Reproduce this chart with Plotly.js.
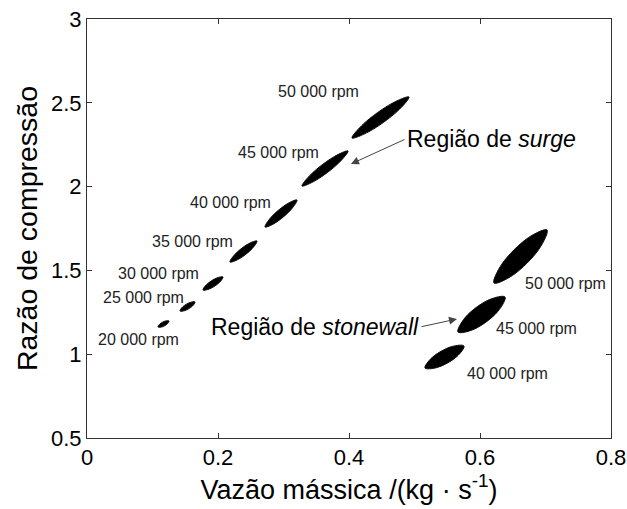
<!DOCTYPE html>
<html>
<head>
<meta charset="utf-8">
<script src="https://cdn.plot.ly/plotly-3.0.1.min.js"></script>
<style>html,body{margin:0;padding:0;background:#fff;}#chart{width:627px;height:509px;}</style>
</head>
<body>
<div id="chart"></div>
<script>
// Operating-point clouds: each cloud outlined by
// its two tips and two points on each long side
const clusterNames = ["S20","S25","S30","S35","S40","S45","S50","W40","W45","W50"];
const tipLowX  = [0.1084,0.1420,0.1771,0.2183,0.2718,0.3282,0.4046,0.5160,0.5664,0.6214];
const tipLowY  = [1.1623,1.2578,1.3831,1.5501,1.7589,2.0036,2.2900,0.9177,1.1325,1.4248];
const tipHighX = [0.1252,0.1649,0.2076,0.2595,0.3206,0.3985,0.4916,0.5756,0.6382,0.7023];
const tipHighY = [1.1981,1.3115,1.4606,1.6754,1.9200,2.2124,2.5346,1.0489,1.3413,1.7411];
const upperHighX = [0.1197,0.1575,0.1978,0.2464,0.3050,0.3773,0.4656,0.5565,0.6135,0.6737];
const upperHighY = [1.1982,1.3091,1.4542,1.6584,1.8956,2.1787,2.4965,1.0454,1.3243,1.6949];
const upperLowX  = [0.1113,0.1460,0.1826,0.2258,0.2806,0.3422,0.4221,0.5267,0.5776,0.6332];
const upperLowY  = [1.1803,1.2823,1.4155,1.5957,1.8150,2.0743,2.3742,0.9797,1.2199,1.5368];
const lowerLowX  = [0.1139,0.1494,0.1869,0.2315,0.2874,0.3494,0.4306,0.5351,0.5911,0.6500];
const lowerLowY  = [1.1622,1.2601,1.3895,1.5672,1.7834,2.0373,2.3281,0.9212,1.1494,1.4710];
const lowerHighX = [0.1223,0.1609,0.2022,0.2521,0.3118,0.3845,0.4741,0.5649,0.6269,0.6905];
const lowerHighY = [1.1801,1.2869,1.4282,1.6298,1.8640,2.1417,2.4504,0.9869,1.2538,1.6291];

// Speed labels
const rpmLabels = ["50 000 rpm","45 000 rpm","40 000 rpm","35 000 rpm","30 000 rpm","25 000 rpm","20 000 rpm","50 000 rpm","45 000 rpm","40 000 rpm"];
const labelX = [0.3527,0.2916,0.2198,0.1603,0.1099,0.0863,0.0786,0.7298,0.6870,0.6427];
const labelY = [2.5700,2.2064,1.9081,1.6695,1.4845,1.3413,1.0907,1.4248,1.1504,0.8819];

// Region annotations: text, arrow tail (x,y) and arrow head (x,y)
const regionText  = ["Região de <i>surge</i>","Região de <i>stonewall</i>"];
const regionTailX = [0.487,0.5084];
const regionTailY = [2.285,1.1623];
const regionHeadX = [0.403,0.5649];
const regionHeadY = [2.135,1.2100];

// Axis ticks
const xTickVals = [0,0.2,0.4,0.6,0.8];
const xTickText = ["0","0.2","0.4","0.6","0.8"];
const yTickVals = [0.5,1,1.5,2,2.5,3];
const yTickText = ["0.5","1","1.5","2","2.5","3"];

const FONT = "'Liberation Sans', Arial, Helvetica, sans-serif";

const traces = clusterNames.map((name,i)=>({
  type:"scatter", mode:"lines", name:name,
  x:[tipHighX[i],upperHighX[i],upperLowX[i],tipLowX[i],lowerLowX[i],lowerHighX[i],tipHighX[i]],
  y:[tipHighY[i],upperHighY[i],upperLowY[i],tipLowY[i],lowerLowY[i],lowerHighY[i],tipHighY[i]],
  fill:"toself", fillcolor:"#000",
  line:{color:"#111",width:1,shape:"spline",smoothing:1},
  hoverinfo:"skip", showlegend:false
}));

const annotations = [];
rpmLabels.forEach((t,i)=>annotations.push({
  x:labelX[i], y:labelY[i], xref:"x", yref:"y", text:t, showarrow:false,
  font:{family:FONT,size:16,color:"#222"}, xanchor:"center", yanchor:"middle"
}));
regionText.forEach((t,i)=>{
  annotations.push({
    x:regionHeadX[i], y:regionHeadY[i], ax:regionTailX[i], ay:regionTailY[i],
    xref:"x", yref:"y", axref:"x", ayref:"y", text:"", showarrow:true,
    arrowhead:2, arrowsize:1.6, arrowwidth:1, arrowcolor:"#444"
  });
  annotations.push({
    x:regionTailX[i], y:regionTailY[i], xref:"x", yref:"y", text:t, showarrow:false,
    font:{family:FONT,size:23,color:"#000"},
    xanchor: i===0 ? "left" : "right", yanchor:"middle", borderpad:0
  });
});

const layout = {
  width:627, height:509,
  margin:{l:87,r:16,t:19,b:71,pad:0},
  paper_bgcolor:"#fff", plot_bgcolor:"#fff",
  showlegend:false,
  font:{family:FONT,size:22,color:"#000"},
  xaxis:{
    range:[0,0.8], tickvals:xTickVals, ticktext:xTickText,
    ticks:"inside", ticklen:5, tickcolor:"#333", showline:true, linecolor:"#333", linewidth:1,
    mirror:"ticks", showgrid:false, zeroline:false,
    tickfont:{family:FONT,size:22,color:"#000"},
    title:{text:"Vazão mássica /(kg · s<sup>-1</sup>)", font:{family:FONT,size:27,color:"#000"}, standoff:7}
  },
  yaxis:{
    range:[0.5,3], tickvals:yTickVals, ticktext:yTickText,
    ticks:"inside", ticklen:5, tickcolor:"#333", showline:true, linecolor:"#333", linewidth:1,
    mirror:"ticks", showgrid:false, zeroline:false,
    tickfont:{family:FONT,size:22,color:"#000"},
    title:{text:"Razão de compressão", font:{family:FONT,size:28.5,color:"#000"}, standoff:5}
  },
  annotations:annotations
};

Plotly.newPlot("chart", traces, layout, {staticPlot:true, displayModeBar:false});
</script>
</body>
</html>
